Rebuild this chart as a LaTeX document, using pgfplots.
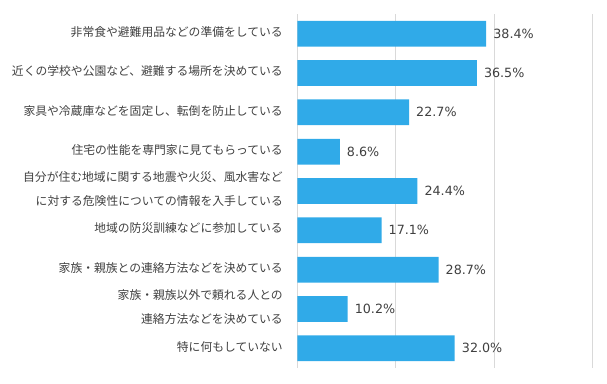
\documentclass[border=0pt]{standalone}
\usepackage{fontspec}
\usepackage{pgfplots}
\pgfplotsset{compat=1.18}
\setmainfont{Noto Sans CJK JP}
\newfontfamily\valfont{DejaVu Sans}
\definecolor{barblue}{RGB}{48,170,232}
\definecolor{txtgray}{RGB}{64,64,64}
\definecolor{gridgray}{RGB}{217,217,217}
\begin{document}
\begin{tikzpicture}
\path[use as bounding box] (-297.5pt,-15pt) rectangle (309.5pt,368pt);
\begin{axis}[
  at={(0pt,0pt)}, anchor=south west,
  scale only axis, width=294.8pt, height=354pt,
  xbar, bar width=25.7pt,
  xmin=0, xmax=60,
  ymin=-0.5, ymax=8.5, y dir=reverse,
  xtick={0,20,40,60}, xticklabels={},
  xmajorgrids, grid style={gridgray, line width=1pt},
  major tick length=0pt,
  axis line style={draw=none},
  ytick={0,1,2,3,4,5,6,7,8},
  yticklabels={
    {非常食や避難用品などの準備をしている},
    {近くの学校や公園など、避難する場所を決めている},
    {家具や冷蔵庫などを固定し、転倒を防止している},
    {住宅の性能を専門家に見てもらっている},
    {自分が住む地域に関する地震や火災、風水害など\\に対する危険性についての情報を入手している},
    {地域の防災訓練などに参加している},
    {家族・親族との連絡方法などを決めている},
    {家族・親族以外で頼れる人との\\連絡方法などを決めている},
    {特に何もしていない}},
  yticklabel style={align=right, inner sep=0pt, xshift=-14.5pt, yshift=1.8pt,
    font=\fontsize{11.8}{23.5}\selectfont, text=txtgray},
  nodes near coords={\pgfmathprintnumber[fixed,fixed zerofill,precision=1,assume math mode=true]{\pgfplotspointmeta}\%},
  nodes near coords style={anchor=west, inner sep=0pt, xshift=7pt,
    font=\valfont\fontsize{12.7}{14}\selectfont, text=txtgray},
]
\addplot[fill=barblue, draw=none] coordinates {
  (38.4,0) (36.5,1) (22.7,2) (8.6,3) (24.4,4) (17.1,5) (28.7,6) (10.2,7) (32.0,8)
};
\end{axis}
\end{tikzpicture}
\end{document}
